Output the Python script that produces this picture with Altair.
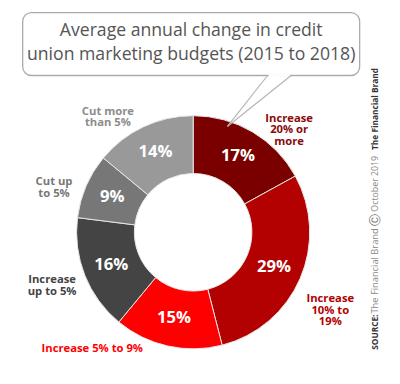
import altair as alt
import pandas as pd

categories = ["Increase 20% or more", "Increase 10% to 19%", "Increase 5% to 9%",
              "Increase up to 5%", "Cut up to 5%", "Cut more than 5%"]
values = [17, 29, 15, 16, 9, 14]
slice_colors = ["#7a0000", "#b30000", "#ff0000", "#444444", "#777777", "#999999"]
label_colors = ["#8a0a0a", "#b30000", "#ff0000", "#444444", "#777777", "#8c8c8c"]
label_texts = ["Increase\n20% or\nmore", "Increase\n10% to\n19%", "Increase 5% to 9%",
               "Increase\nup to 5%", "Cut up\nto 5%", "Cut more\nthan 5%"]
title_lines = ["Average annual change in credit", "union marketing budgets (2015 to 2018)"]

# layout (pixels, chart coordinates)
CX, CY = 189, 225
R_IN, R_OUT = 60, 119
label_pos = [(287, 109), (329, 293), (86, 344), (45, 274), (47, 174), (102, 102)]

df = pd.DataFrame({
    "category": categories,
    "value": values,
    "idx": list(range(len(values))),
    "pct": [f"{v}%" for v in values],
})

color_scale = alt.Scale(domain=categories, range=slice_colors)
FONT = "Open Sans"

base = alt.Chart(df).encode(
    theta=alt.Theta("value:Q", stack=True),
    order=alt.Order("idx:Q"),
    x=alt.value(CX), y=alt.value(CY),
)

donut = base.mark_arc(innerRadius=R_IN, outerRadius=R_OUT, stroke="#e8e8e8", strokeWidth=1).encode(
    color=alt.Color("category:N", scale=color_scale, legend=None)
)

pcts = base.mark_text(radius=90, font=FONT, fontSize=17, fontWeight="bold", color="white",
                      align="center", baseline="middle").encode(text="pct:N")

layers = [donut, pcts]

one = pd.DataFrame({"a": [0]})

for txt, col, (lx, ly) in zip(label_texts, label_colors, label_pos):
    layers.append(alt.Chart(one).mark_text(
        text=txt, lineBreak="\n", font=FONT, fontSize=11.5, fontWeight="bold", color=col,
        align="center", baseline="middle", lineHeight=12
    ).encode(x=alt.value(lx), y=alt.value(ly)))

# speech bubble
bubble = alt.Chart(one).mark_rect(fill="white", stroke="#aaaaaa", strokeWidth=1.3, cornerRadius=9).encode(
    x=alt.value(15), x2=alt.value(359), y=alt.value(0.7), y2=alt.value(65))
gap = alt.Chart(one).mark_rule(color="white", strokeWidth=2.5).encode(
    x=alt.value(266), x2=alt.value(288), y=alt.value(65), y2=alt.value(65))
tail1 = alt.Chart(one).mark_rule(color="#b5b5b5", strokeWidth=1.2).encode(
    x=alt.value(265), x2=alt.value(224), y=alt.value(65), y2=alt.value(117))
tail2 = alt.Chart(one).mark_rule(color="#b5b5b5", strokeWidth=1.2).encode(
    x=alt.value(289), x2=alt.value(224), y=alt.value(65), y2=alt.value(117))
layers = [bubble] + layers + [gap, tail1, tail2]

for i, line in enumerate(title_lines):
    layers.append(alt.Chart(one).mark_text(
        text=line, font=FONT, fontSize=18, color="#555555", align="center", baseline="middle"
    ).encode(x=alt.value(187), y=alt.value(20 + 24 * i)))

# vertical source note
src_parts = [
    ("SOURCE:", 345, "bold", "#333333", 8.5),
    ("The Financial Brand", 308, "normal", "#888888", 9.5),
    ("\u24b8", 219, "normal", "#666666", 12),
    ("October 2019", 204, "normal", "#888888", 9),
    ("The Financial Brand", 141, "bold", "#333333", 8.5),
]
for txt, yy, fw, col, fs in src_parts:
    layers.append(alt.Chart(one).mark_text(
        text=txt, angle=270, font=FONT, fontSize=fs, fontWeight=fw, color=col,
        align="left", baseline="middle"
    ).encode(x=alt.value(375), y=alt.value(yy)))

chart = alt.layer(*layers).properties(
    width=392, height=376,
    autosize=alt.AutoSizeParams(type="none"),
    padding=0,
).configure_view(stroke=None)

chart.save("out.html", embed_options={"renderer": "svg", "actions": False})
